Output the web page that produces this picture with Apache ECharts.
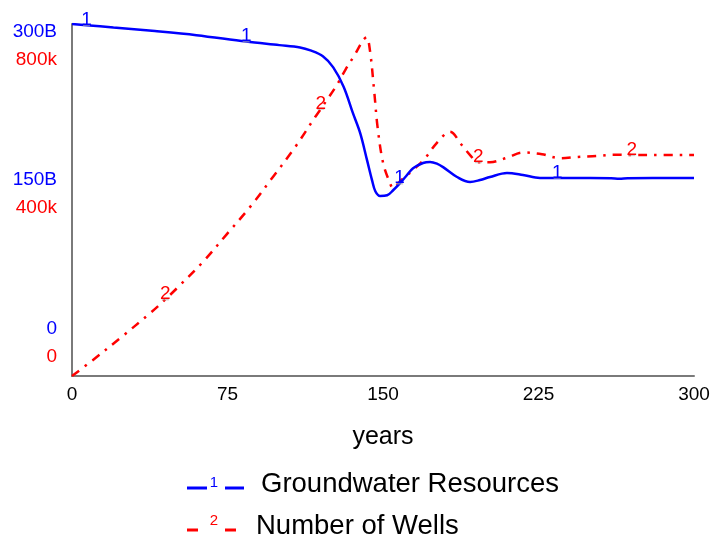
<!DOCTYPE html>
<html>
<head>
<meta charset="utf-8">
<script src="https://cdn.jsdelivr.net/npm/echarts@6/dist/echarts.min.js"></script>
<style>
html,body{margin:0;padding:0;background:#fff;}
#chart{width:715px;height:542px;}
</style>
</head>
<body>
<div id="chart"></div>
<script>
// ---- data ----
var xTicks = [0, 75, 150, 225, 300];
var blueTicks = ['0', '150B', '300B'];
var redTicks = ['0', '400k', '800k'];

// Groundwater Resources (billions)
var gwYears  = [0, 7, 20, 40, 60, 84, 100, 110, 115, 121, 126, 131, 135.5, 139, 142.3, 144.7, 146.3, 148.6, 152, 155, 158, 161, 164.5, 169.3, 172.7, 176, 179, 185.7, 192, 196.8, 201.6, 209.8, 217.5, 225.7, 234, 250, 260, 264, 268, 280, 300];
var gwValues = [300, 299, 297, 294, 290.5, 285, 282, 280, 277.5, 272.5, 263, 246.5, 224, 207, 184, 167, 157.5, 153.4, 154, 158.5, 164, 170, 177, 181.5, 182.4, 181, 178, 169.6, 165.3, 167, 169.6, 173, 171.3, 168.8, 168.8, 168.8, 168.6, 168.2, 168.6, 168.8, 168.8];
var gwLabelYears = [7, 84, 158, 234];

// Number of Wells (thousands)
var wYears  = [0, 10, 24, 37.6, 45, 50.5, 63.3, 74.6, 86.2, 97, 107.6, 117.2, 120, 123.5, 127.7, 132, 136.5, 140.5, 142.1, 143.7, 145.7, 147.4, 150.1, 153.4, 154.8, 158.7, 164.5, 170.3, 176, 182.3, 188, 192, 196, 201.6, 209.8, 217.5, 226.7, 235.4, 244, 253.2, 261, 270, 280, 300];
var wValues = [0, 36, 89, 142.5, 174, 199, 260, 322, 386, 453, 520, 588, 607, 631, 661, 697, 731, 764, 770, 740, 650, 565, 483, 438, 427, 445, 468, 495, 530, 555, 525, 502, 486, 486, 496, 508, 504, 495, 498, 500, 503, 502, 502, 502];
var wLabelYears = [45, 120, 196, 270];

var BLUE = '#0000ff', RED = '#ff0000';
var FONT = 'Liberation Sans, Arial, sans-serif';

function build(years, vals, labelYears, txt, color) {
  return years.map(function (t, i) {
    if (labelYears.indexOf(t) >= 0) {
      return {
        value: [t, vals[i]],
        symbol: 'rect', symbolSize: [7, 2],
        itemStyle: { color: 'rgba(170,170,170,0.6)' },
        label: { show: true, formatter: txt, position: 'top', distance: -5,
                 color: color, fontSize: 19, fontFamily: FONT }
      };
    }
    return [t, vals[i]];
  });
}

function richLabel(ticks, maxVal, pads, color) {
  var rich = {};
  var n = ticks.length;
  for (var i = 0; i < n; i++) {
    rich['t' + i] = { color: color, fontSize: 19, fontFamily: FONT, padding: pads[i] };
  }
  return {
    color: color, fontSize: 19, fontFamily: FONT, margin: 15,
    formatter: function (v) {
      var idx = Math.round(v / (maxVal / (n - 1)));
      return '{t' + idx + '|' + ticks[idx] + '}';
    },
    rich: rich
  };
}

var chart = echarts.init(document.getElementById('chart'), null, { renderer: 'canvas' });
chart.setOption({
  animation: false,
  backgroundColor: '#ffffff',
  grid: { left: 72, right: 21, top: 24, bottom: 166 },
  xAxis: {
    type: 'value', min: 0, max: 300, interval: 75,
    axisLine: { lineStyle: { color: '#7a7a7a', width: 2 } },
    axisTick: { show: false },
    splitLine: { show: false },
    axisLabel: { color: '#000', fontSize: 19, fontFamily: FONT, margin: 9,
      formatter: function (v) { return String(xTicks[xTicks.indexOf(v)]); } },
    name: 'years', nameLocation: 'middle', nameGap: 49,
    nameTextStyle: { color: '#000', fontSize: 25, fontFamily: FONT }
  },
  yAxis: [
    {
      type: 'value', min: 0, max: 300, interval: 150, position: 'left',
      axisLine: { show: true, lineStyle: { color: '#7a7a7a', width: 2 } },
      axisTick: { show: false }, splitLine: { show: false },
      axisLabel: richLabel(blueTicks, 300, [[0,0,94,0],[0,0,41,0],[16,0,0,0]], BLUE)
    },
    {
      type: 'value', min: 0, max: 800, interval: 400, position: 'left', offset: 0,
      axisLine: { show: false }, axisTick: { show: false }, splitLine: { show: false },
      axisLabel: richLabel(redTicks, 800, [[0,0,38,0],[16,0,0,0],[71,0,0,0]], RED)
    }
  ],
  series: [
    {
      name: 'Groundwater Resources', type: 'line', yAxisIndex: 0,
      data: build(gwYears, gwValues, gwLabelYears, '1', BLUE),
      symbol: 'none', smooth: 0.35,
      lineStyle: { color: BLUE, width: 2.5 }, itemStyle: { color: BLUE }, z: 3
    },
    {
      name: 'Number of Wells', type: 'line', yAxisIndex: 1,
      data: build(wYears, wValues, wLabelYears, '2', RED),
      symbol: 'none', smooth: 0.35,
      lineStyle: { color: RED, width: 2.5, type: [9, 7, 2.5, 7] }, itemStyle: { color: RED }, z: 2
    }
  ],
  graphic: [
    { type: 'line', shape: { x1: 187, y1: 488, x2: 207, y2: 488 }, style: { stroke: BLUE, lineWidth: 3 } },
    { type: 'text', x: 214, y: 483, style: { text: '1', fill: BLUE, fontSize: 15, fontFamily: FONT, textAlign: 'center', textVerticalAlign: 'middle' } },
    { type: 'line', shape: { x1: 225, y1: 488, x2: 244, y2: 488 }, style: { stroke: BLUE, lineWidth: 3 } },
    { type: 'text', x: 261, y: 484, style: { text: 'Groundwater Resources', fill: '#000', fontSize: 27.5, fontFamily: FONT, textVerticalAlign: 'middle' } },
    { type: 'line', shape: { x1: 187, y1: 530, x2: 198, y2: 530 }, style: { stroke: RED, lineWidth: 3 } },
    { type: 'text', x: 214, y: 521, style: { text: '2', fill: RED, fontSize: 15, fontFamily: FONT, textAlign: 'center', textVerticalAlign: 'middle' } },
    { type: 'line', shape: { x1: 225, y1: 530, x2: 236, y2: 530 }, style: { stroke: RED, lineWidth: 3 } },
    { type: 'text', x: 256, y: 526, style: { text: 'Number of Wells', fill: '#000', fontSize: 27.5, fontFamily: FONT, textVerticalAlign: 'middle' } }
  ]
});
</script>
</body>
</html>
